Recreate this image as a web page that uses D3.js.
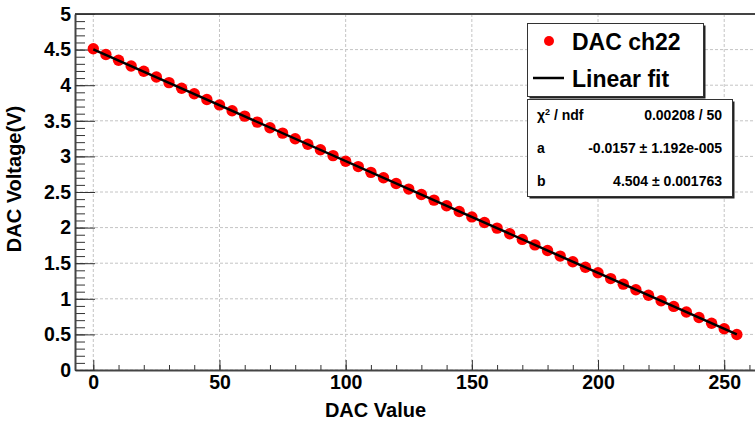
<!DOCTYPE html>
<html>
<head>
<meta charset="utf-8">
<script src="https://cdn.jsdelivr.net/npm/d3@7"></script>
<style>
  body { margin: 0; background: #fff; }
  svg text { font-family: "Liberation Sans", Arial, sans-serif; font-weight: bold; fill: #000; }
</style>
</head>
<body>
<div id="chart"></div>
<script>
// donnees
var dacValues = [0, 5, 10, 15, 20, 25, 30, 35, 40, 45, 50, 55, 60, 65, 70, 75, 80, 85, 90, 95,
  100, 105, 110, 115, 120, 125, 130, 135, 140, 145, 150, 155, 160, 165, 170, 175, 180, 185, 190, 195,
  200, 205, 210, 215, 220, 225, 230, 235, 240, 245, 250, 255];
var dacVoltage = [4.512, 4.431, 4.350, 4.270, 4.196, 4.116, 4.036, 3.957, 3.880, 3.799,
  3.723, 3.642, 3.566, 3.481, 3.403, 3.327, 3.247, 3.170, 3.093, 3.011,
  2.932, 2.857, 2.776, 2.700, 2.619, 2.541, 2.464, 2.386, 2.307, 2.226,
  2.150, 2.071, 1.993, 1.914, 1.834, 1.757, 1.679, 1.600, 1.520, 1.443,
  1.365, 1.284, 1.206, 1.128, 1.050, 0.972, 0.893, 0.815, 0.737, 0.657,
  0.580, 0.499];
var fitA = -0.0157, fitB = 4.504;
var xMajorTicks = [0, 50, 100, 150, 200, 250];
var yMajorTicks = [0, 0.5, 1, 1.5, 2, 2.5, 3, 3.5, 4, 4.5, 5];
var legendLabels = ["DAC ch22", "Linear fit"];
var statsRows = [["χ2 / ndf", "0.00208 / 50"], ["a", "-0.0157 ± 1.192e-005"], ["b", "4.504 ± 0.001763"]];

var W = 755, H = 424;
var svg = d3.select("#chart").append("svg").attr("width", W).attr("height", H);

var x = d3.scaleLinear().domain([-7.25, 262.2]).range([75, 755]);
var y = d3.scaleLinear().domain([0, 5]).range([370, 14]);

var xMinor = d3.range(0, 261, 10);
var yMinor = d3.range(0, 5.001, 0.1).map(function(v) { return +v.toFixed(1); });

// grille
svg.append("g").selectAll("line").data(xMajorTicks).enter().append("line")
  .attr("x1", d => x(d)).attr("x2", d => x(d)).attr("y1", 14).attr("y2", 370)
  .attr("stroke", "#c4c4c4").attr("stroke-dasharray", "3,2");
svg.append("g").selectAll("line").data(yMajorTicks).enter().append("line")
  .attr("x1", 75).attr("x2", 755).attr("y1", d => y(d)).attr("y2", d => y(d))
  .attr("stroke", "#c4c4c4").attr("stroke-dasharray", "3,2");

// cadre haut
svg.append("line").attr("x1", 75).attr("x2", 755).attr("y1", 14).attr("y2", 14)
  .attr("stroke", "#444").attr("stroke-width", 2);

// axes
svg.append("g").attr("transform", "translate(0,370)")
  .call(d3.axisBottom(x).tickValues(xMinor).tickFormat("").tickSizeInner(-5).tickSizeOuter(0))
  .call(g => g.select(".domain").remove());
var gx = svg.append("g").attr("transform", "translate(0,370)")
  .call(d3.axisBottom(x).tickValues(xMajorTicks).tickSizeInner(-10).tickSizeOuter(0).tickPadding(5));
gx.selectAll("text").style("font-size", "19.5px");

svg.append("g").attr("transform", "translate(75,0)")
  .call(d3.axisLeft(y).tickValues(yMinor).tickFormat("").tickSizeInner(-10).tickSizeOuter(0))
  .call(g => g.select(".domain").remove());
var gy = svg.append("g").attr("transform", "translate(75,0)")
  .call(d3.axisLeft(y).tickValues(yMajorTicks).tickFormat(d3.format("")).tickSizeInner(-20).tickSizeOuter(0).tickPadding(4));
gy.selectAll("text").style("font-size", "19.5px");

svg.selectAll(".tick line").attr("stroke", "#333");
svg.selectAll(".domain").attr("stroke", "#444").attr("stroke-width", 2);

// titres
svg.append("text").attr("x", 375.5).attr("y", 417).attr("text-anchor", "middle")
  .style("font-size", "20px").text("DAC Value");
svg.append("text").attr("transform", "translate(21,179) rotate(-90)").attr("text-anchor", "middle")
  .style("font-size", "20px").text("DAC Voltage(V)");

// points
svg.append("g").selectAll("circle").data(dacValues).enter().append("circle")
  .attr("cx", d => x(d)).attr("cy", (d, i) => y(dacVoltage[i])).attr("r", 5.7)
  .attr("fill", "#ff0000");

// ajustement lineaire
var fitLine = d3.line().x(d => x(d)).y(d => y(fitA * d + fitB));
svg.append("path").attr("d", fitLine([0, 255])).attr("stroke", "#000")
  .attr("stroke-width", 2.5).attr("fill", "none");

// boite avec ombre
function box(x0, y0, w, h) {
  svg.append("rect").attr("x", x0 + 2).attr("y", y0 + 2).attr("width", w).attr("height", h).attr("fill", "#222");
  svg.append("rect").attr("x", x0).attr("y", y0).attr("width", w).attr("height", h)
    .attr("fill", "#fff").attr("stroke", "#333").attr("stroke-width", 1);
}

// legende
box(527.5, 23.5, 176, 73);
svg.append("circle").attr("cx", 549).attr("cy", 41).attr("r", 5).attr("fill", "#ff0000");
svg.append("line").attr("x1", 533).attr("x2", 564).attr("y1", 78).attr("y2", 78)
  .attr("stroke", "#000").attr("stroke-width", 2.5);
svg.selectAll(".leg").data(legendLabels).enter().append("text")
  .attr("x", 572).attr("y", (d, i) => 50 + i * 37).style("font-size", "23px").text(d => d);

// stats
box(527.5, 99.5, 205, 97);
statsRows.forEach(function(r, i) {
  var t = svg.append("text").attr("x", 537).attr("y", 120 + i * 33).style("font-size", "14px");
  if (i === 0) {
    t.append("tspan").text("χ");
    t.append("tspan").attr("dy", -5).style("font-size", "9px").text("2");
    t.append("tspan").attr("dy", 5).text(" / ndf");
  } else {
    t.text(r[0]);
  }
  svg.append("text").attr("x", 722).attr("y", 120 + i * 33).attr("text-anchor", "end")
    .style("font-size", "14px").text(r[1]);
});
</script>
</body>
</html>
